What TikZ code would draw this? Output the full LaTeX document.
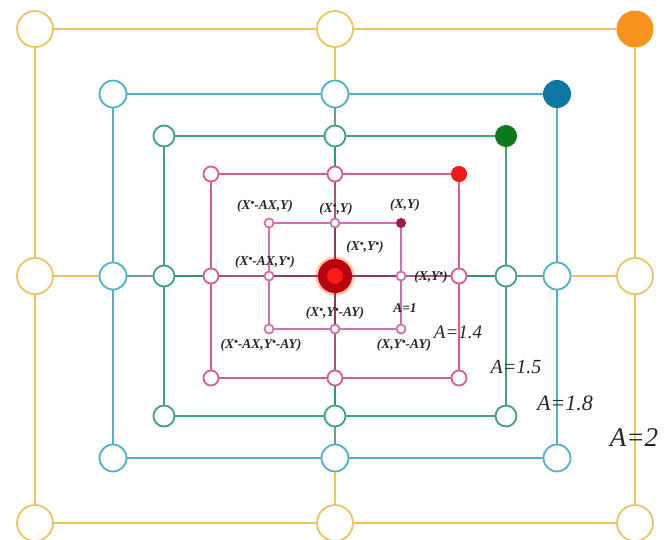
\documentclass[tikz,border=0pt]{standalone}
\usepackage{fontspec}
\setmainfont{Liberation Serif}
\definecolor{cY}{HTML}{EBC660}
\definecolor{cC}{HTML}{4DB3C4}
\definecolor{cG}{HTML}{3FA578}
\definecolor{cP}{HTML}{D65C98}
\definecolor{cI}{HTML}{D070B0}
\definecolor{fY}{HTML}{F7941E}
\definecolor{fC}{HTML}{0C78A3}
\definecolor{fG}{HTML}{0B7A1E}
\definecolor{fP}{HTML}{F01818}
\definecolor{fI}{HTML}{A5154E}
\definecolor{sC}{HTML}{6E9E88}
\definecolor{sG}{HTML}{2E9A68}
\definecolor{sP}{HTML}{A8527E}
\definecolor{sI}{HTML}{8E3A5E}
\definecolor{redA}{HTML}{B80010}
\definecolor{redB}{HTML}{FF1A1A}
\newcommand{\bx}{\raisebox{0.4ex}{\fontsize{11}{11}\selectfont\textbullet}}
\tikzset{
  ringnode/.style={circle, draw=#1, line width=1.8pt, fill=white, inner sep=0pt},
  cornernode/.style={circle, draw=#1, fill=#1, line width=1pt, inner sep=0pt},
  ringline/.style={draw=#1, line width=2pt},
  lab/.style={font=\fontsize{13.5}{15}\selectfont\bfseries\itshape, inner sep=0pt, text=black!85},
  alab/.style={font=\fontsize{#1}{#1}\selectfont\itshape, inner sep=0pt, text=black!85}
}
\begin{document}
\begin{tikzpicture}[x=1pt,y=-1pt]
\useasboundingbox (0,0) rectangle (669,539);
\fill[white] (0,0) rectangle (669,539);
% rings: name / half-width / half-height / radius / line colour / corner fill / line width
\foreach \n/\hw/\hh/\r/\c/\f/\lw in {Y/300/247/18/cY/fY/2.2, C/222/182/13.5/cC/fC/2.1, G/171/140/10.5/cG/fG/2, P/124/102/7.5/cP/fP/1.9, I/66/53/4.5/cI/fI/1.6}{
  \node[ringnode=\c, minimum size={2*\r pt}] (\n-tl) at (335-\hw,276-\hh) {};
  \node[ringnode=\c, minimum size={2*\r pt}] (\n-tm) at (335,276-\hh) {};
  \node[cornernode=\f, minimum size={2*\r pt}] (\n-tr) at (335+\hw,276-\hh) {};
  \node[ringnode=\c, minimum size={2*\r pt}] (\n-ml) at (335-\hw,276) {};
  \node[ringnode=\c, minimum size={2*\r pt}] (\n-mr) at (335+\hw,276) {};
  \node[ringnode=\c, minimum size={2*\r pt}] (\n-bl) at (335-\hw,276+\hh) {};
  \node[ringnode=\c, minimum size={2*\r pt}] (\n-bm) at (335,276+\hh) {};
  \node[ringnode=\c, minimum size={2*\r pt}] (\n-br) at (335+\hw,276+\hh) {};
  \draw[ringline=\c, line width=\lw pt] (\n-tl) -- (\n-tm) -- (\n-tr) -- (\n-mr) -- (\n-br) -- (\n-bm) -- (\n-bl) -- (\n-ml) -- (\n-tl);
}
% centre
\fill[orange!70!red, opacity=0.35] (335,276) circle (19.5);
\node[circle, fill=redA, inner sep=0pt, minimum size=34pt] (O) at (335,276) {};
\node[circle, fill=redB, draw=red!70!black, line width=0.8pt, inner sep=0pt, minimum size=17pt] (Oc) at (O) {};
% cross segments
\foreach \d in {tm,ml,mr,bm}{
  \draw[ringline=cY, line width=2.2pt] (Y-\d) -- (C-\d);
  \draw[ringline=sC] (C-\d) -- (G-\d);
  \draw[ringline=sG] (G-\d) -- (P-\d);
  \draw[ringline=sP, line width=1.8pt] (P-\d) -- (I-\d);
  \draw[ringline=sI, line width=1.6pt] (I-\d) -- (O);
}
% labels
\node[lab] (l1) at (265,206) {(X\bx-AX,Y)};
\node[lab] (l2) at (336,209) {(X\bx,Y)};
\node[lab] (l3) at (405,205) {(X,Y)};
\node[lab] (l4) at (365,247) {(X\bx,Y\bx)};
\node[lab] (l5) at (265,262) {(X\bx-AX,Y\bx)};
\node[lab] (l6) at (431,277) {(X,Y\bx)};
\node[lab] (l7) at (405,308) {A=1};
\node[lab] (l8) at (335,313) {(X\bx,Y\bx-AY)};
\node[lab] (l9) at (261,345) {(X\bx-AX,Y\bx-AY)};
\node[lab] (l10) at (404,345) {(X,Y\bx-AY)};
\node[alab=19] (a14) at (458,332) {A=1.4};
\node[alab=20] (a15) at (516,367) {A=1.5};
\node[alab=22] (a18) at (565,403) {A=1.8};
\node[alab=27] (a2) at (634,438) {A=2};
\end{tikzpicture}
\end{document}
